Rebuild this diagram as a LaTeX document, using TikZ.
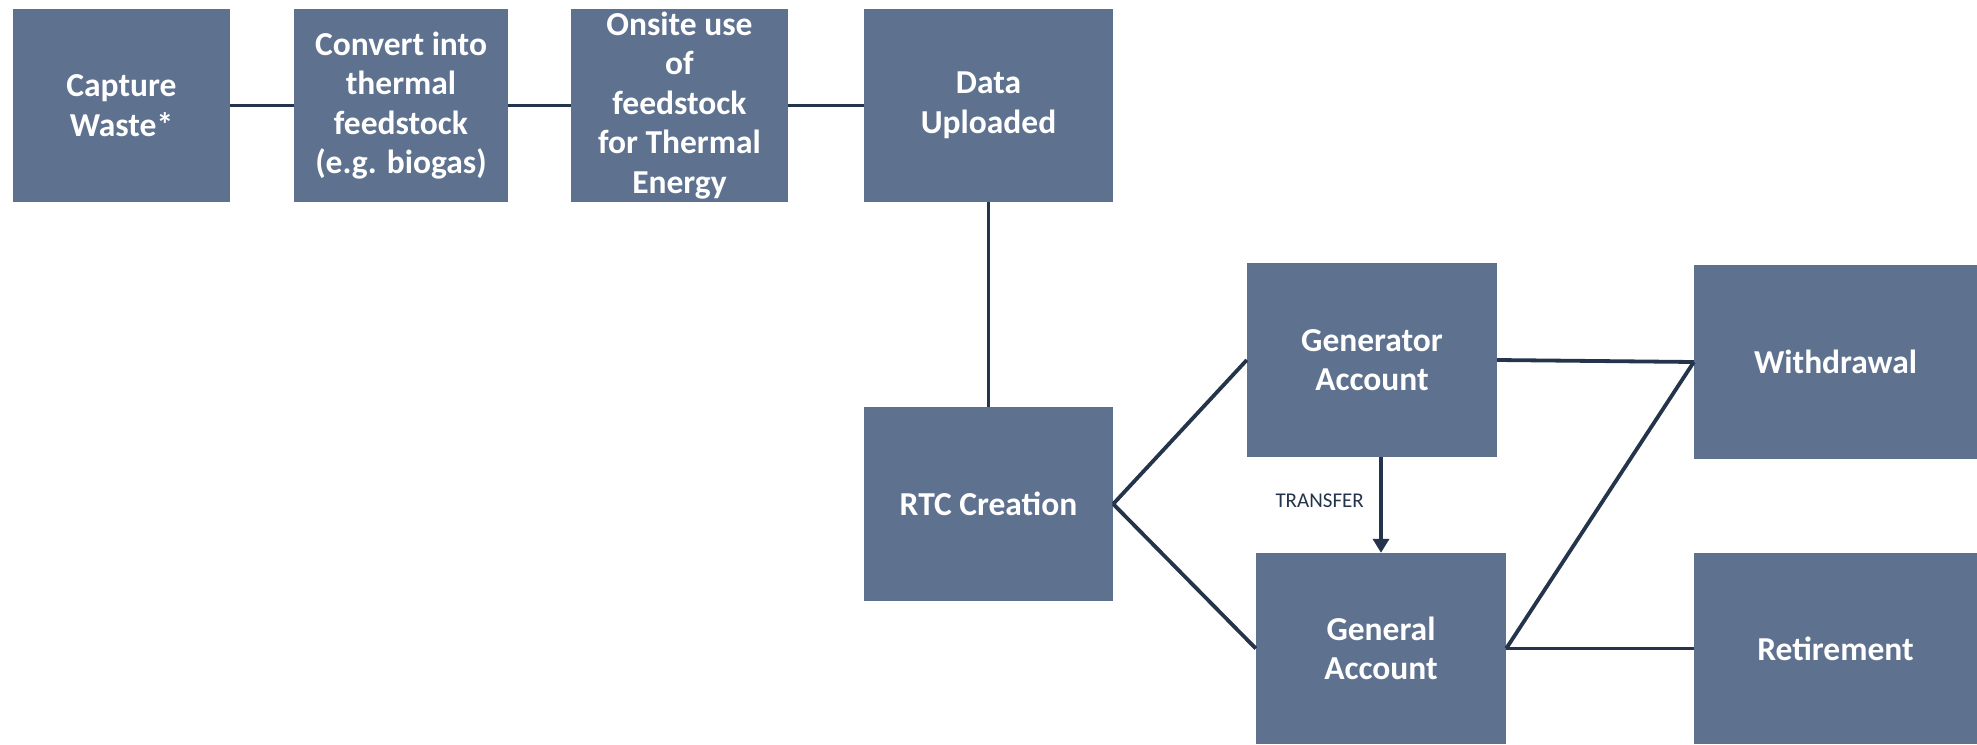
\documentclass[tikz,border=0pt]{standalone}
\usepackage{fontspec}
\setmainfont{Carlito}
\usetikzlibrary{arrows.meta,calc}
\definecolor{boxfill}{RGB}{94,114,144}
\definecolor{linecol}{RGB}{35,52,75}
\tikzset{
  stepbox/.style={fill=boxfill, draw=none, text=white, align=center, inner sep=0pt,
    font=\fontsize{33.5}{39.5}\selectfont\bfseries},
  conn/.style={draw=linecol, line width=3.8pt},
  arr/.style={draw=linecol, line width=3.8pt, -{Triangle[length=14pt,width=16pt]}},
  lbl/.style={text=linecol, inner sep=0pt, font=\fontsize{21}{25}\selectfont}
}
\begin{document}
\begin{tikzpicture}[x=1pt,y=-1pt]
\useasboundingbox (0,0) rectangle (1977,744);
\node[stepbox, minimum width=217pt, minimum height=193pt] (cap) at (121.5,105.5) {Capture\\Waste*};
\node[stepbox, minimum width=214pt, minimum height=193pt] (conv) at (401,105.5) {Convert into\\thermal\\feedstock\\(e.g. biogas)};
\node[stepbox, minimum width=217pt, minimum height=193pt] (onsite) at (679.5,105.5) {\raisebox{-1pt}{\parbox{200pt}{\centering Onsite use\\of\\feedstock\\for Thermal\\Energy}}};
\node[stepbox, minimum width=249pt, minimum height=193pt] (data) at (988.5,105.5) {Data\\Uploaded};
\node[stepbox, minimum width=249pt, minimum height=194pt] (rtc) at (988.5,504) {RTC Creation};
\node[stepbox, minimum width=250pt, minimum height=194pt] (gen) at (1372,360) {Generator\\Account};
\node[stepbox, minimum width=250pt, minimum height=191pt] (genl) at (1381,648.5) {General\\Account};
\node[stepbox, minimum width=283pt, minimum height=194pt] (wd) at (1835.5,362) {Withdrawal};
\node[stepbox, minimum width=283pt, minimum height=191pt] (ret) at (1835.5,648.5) {Retirement};

\draw[conn] (cap.east) -- (conv.west);
\draw[conn] (conv.east) -- (onsite.west);
\draw[conn] (onsite.east) -- (data.west);
\draw[conn] (data.south) -- (rtc.north);
\draw[conn] (rtc.east) -- (gen.west);
\draw[conn] (rtc.east) -- (genl.west);
\draw[conn] (gen.east) -- (wd.west);
\draw[conn] (genl.east) -- (wd.west);
\draw[conn] (genl.east) -- (ret.west);
\coordinate (tstart) at (genl.north |- gen.south);
\draw[arr] (tstart) -- (genl.north);
\node[lbl, anchor=east] (tr) at ($(tstart)!0.46!(genl.north) + (-17,0)$) {TRANSFER};
\end{tikzpicture}
\end{document}
